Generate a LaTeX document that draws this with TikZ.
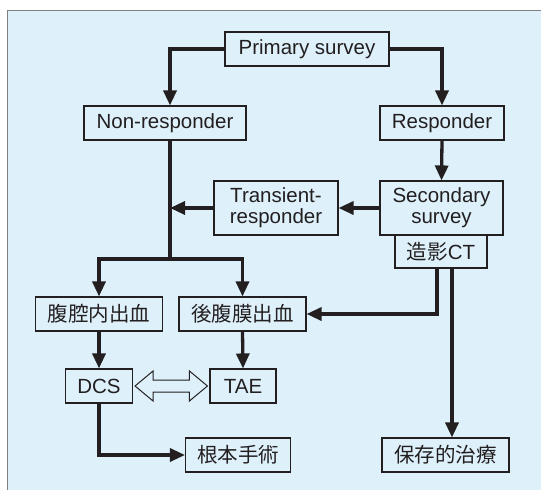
\documentclass[tikz,border=0pt]{standalone}
\usepackage{fontspec}
\setmainfont{Liberation Sans}
\newfontfamily\jp{Noto Sans CJK JP}
\usetikzlibrary{arrows.meta,calc}
\definecolor{bg}{RGB}{222,241,251}
\definecolor{ink}{RGB}{35,31,32}
\definecolor{frame}{RGB}{128,128,128}
\begin{document}
\begin{tikzpicture}[x=1pt,y=-1pt,
  box/.style={draw=ink, line width=1.1pt, fill=bg, inner sep=0pt, text=ink,
    font=\fontsize{20.5}{21}\selectfont, align=center},
  conn/.style={draw=ink, line width=3.3pt, -{Triangle[length=15pt,width=13pt]}},
  plain/.style={draw=ink, line width=3.3pt}]
\useasboundingbox (0,0) rectangle (541,490);
\fill[white] (0,0) rectangle (541,490);
\draw[fill=bg, draw=frame, line width=1pt] (7,10) rectangle (560,510);

\node[box, minimum width=164pt, minimum height=34pt] (prim) at (307,49) {Primary survey};
\node[box, minimum width=162pt, minimum height=34pt] (nonr) at (165,123) {Non-responder};
\node[box, minimum width=124pt, minimum height=34pt] (resp) at (442,123) {Responder};
\node[box, minimum width=124pt, minimum height=54pt] (trans) at (276,208) {Transient-\\responder};
\node[box, minimum width=123pt, minimum height=54pt] (sec) at (441.5,208) {Secondary\\survey};
\node[box, minimum width=92pt, minimum height=33pt] (ct) at (441,251.5) {{\jp 造影}CT};
\node[box, minimum width=127pt, minimum height=34pt] (fuku) at (99,314) {\jp 腹腔内出血};
\node[box, minimum width=127pt, minimum height=34pt] (kofu) at (242.5,314) {\jp 後腹膜出血};
\node[box, minimum width=67pt, minimum height=34pt] (dcs) at (99,386) {DCS};
\node[box, minimum width=66pt, minimum height=34pt] (tae) at (243,386) {TAE};
\node[box, minimum width=105pt, minimum height=34pt] (konpon) at (238,455) {\jp 根本手術};
\node[box, minimum width=127pt, minimum height=34pt] (hozon) at (445.5,455) {\jp 保存的治療};

\coordinate (v) at ([xshift=5pt]nonr.south);
\coordinate (split) at (170,259);
\coordinate (ctl) at ([xshift=-4pt]ct.south);
\coordinate (ctr) at ([xshift=11pt]ct.south);

\draw[conn] (prim.west) -| ([xshift=5pt]nonr.north);
\draw[conn] (prim.east) -| (resp.north);
\draw[conn] (resp.south) -- (sec.north);
\draw[conn] (sec.west) -- (trans.east);
\draw[plain] (v) -- (split);
\draw[conn] (trans.west) -- (trans.west -| v);
\draw[conn] (split) -| (fuku.north);
\draw[conn] (split) -| (kofu.north);
\draw[conn] (ctl) |- (kofu.east);
\draw[conn] (ctr) -- (ctr |- hozon.north);
\draw[conn] (fuku.south) -- (dcs.north);
\draw[conn] (kofu.south) -- (tae.north);
\draw[conn] (dcs.south) |- (konpon.west);

\coordinate (a) at ([xshift=2pt]dcs.east);
\coordinate (b) at ([xshift=-2pt]tae.west);
\draw[draw=ink, fill=bg, line width=1pt, line join=miter]
  (a) -- ($(a)+(18,-15)$) -- ($(a)+(18,-6)$) -- ($(b)+(-18,-6)$)
  -- ($(b)+(-18,-15)$) -- (b) -- ($(b)+(-18,15)$) -- ($(b)+(-18,6)$)
  -- ($(a)+(18,6)$) -- ($(a)+(18,15)$) -- cycle;
\end{tikzpicture}
\end{document}
